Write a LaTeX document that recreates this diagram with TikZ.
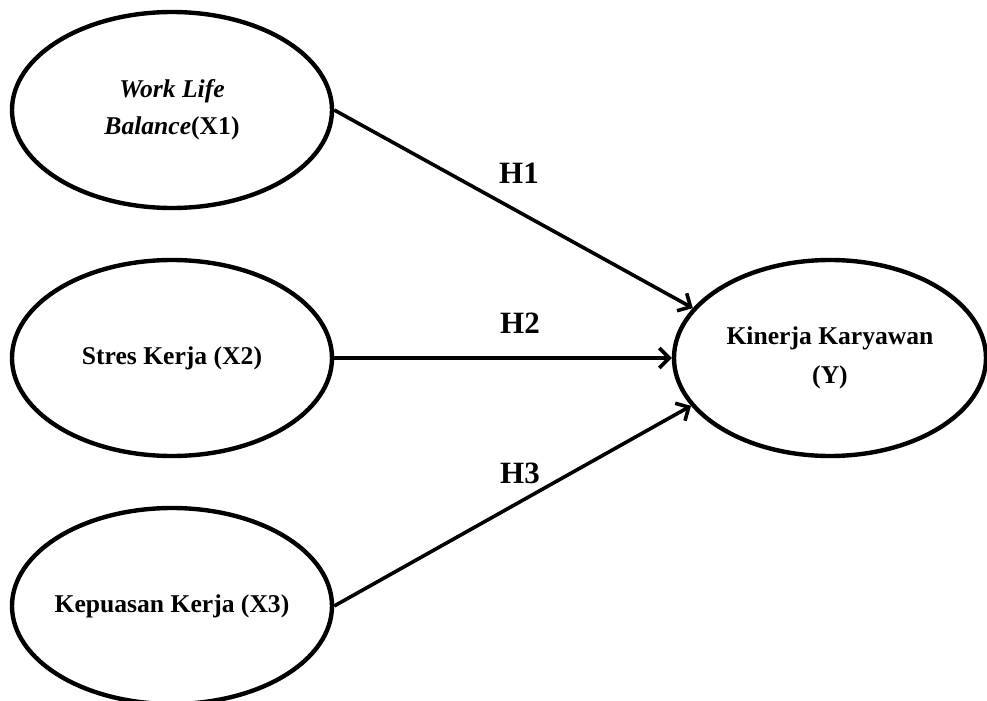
\documentclass[tikz,border=0pt]{standalone}
\usepackage{fontspec}
\setmainfont{Liberation Serif}
\usetikzlibrary{shapes.geometric, positioning, arrows.meta}
\tikzset{
	latent/.style={ellipse, draw, line width=2.2pt, minimum width=160pt, minimum height=98pt, inner sep=0pt, inner xsep=-6pt, align=center, font=\bfseries\fontsize{12.8}{18.5}\selectfont}, % variabel laten
	conn/.style={line width=1.8pt, -{Straight Barb[length=5pt, width=10pt]}}, % panah hipotesis
	hyp/.style={font=\bfseries\fontsize{15.5}{18}\selectfont}, % label H1..H3
	node distance=124pt % jarak antar variabel X
}

\begin{document}
\begin{tikzpicture}[x=0.5pt, y=-0.5pt]
			\useasboundingbox (0,0) rectangle (987,701);
			\node[latent] (x1) at (172,110) {\textit{Work Life}\\\textit{Balance}(X1)};
			\node[latent, below of=x1] (x2) {Stres Kerja (X2)};
			\node[latent, below of=x2] (x3) {Kepuasan Kerja (X3)};
			\node[latent, minimum width=156pt, right of=x2, node distance=329pt, font=\bfseries\fontsize{12.8}{19.5}\selectfont] (y) {Kinerja Karyawan\\(Y)};
			\path	(x1.east) edge[conn] (y.160)
					(x2.east) edge[conn] (y.west)
					(x3.east) edge[conn] (y.199)
					;
			\node[hyp] (h1) at (519,173) {H1};
			\node[hyp] (h2) at (520,323) {H2};
			\node[hyp] (h3) at (520,473) {H3};
			\end{tikzpicture}
\end{document}
